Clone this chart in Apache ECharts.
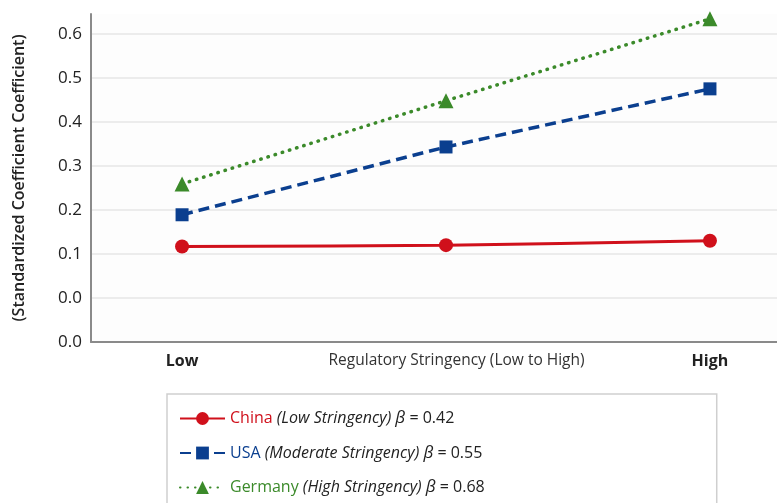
<!DOCTYPE html>
<html><head><meta charset="utf-8">
<script src="https://cdn.jsdelivr.net/npm/echarts@6/dist/echarts.min.js"></script>
<style>html,body{margin:0;padding:0;background:#fff}#c{width:777px;height:503px}</style>
</head><body><div id="c"></div>
<script>
const xPositions = [0, 1, 2];
const xTickValues = [0, 1.04, 2];
const xTickLabels = ['Low', 'Regulatory Stringency (Low to High)', 'High'];
const yTicks = [-0.1, 0, 0.1, 0.2, 0.3, 0.4, 0.5, 0.6];
const chinaValues = [0.117, 0.120, 0.130];
const usaValues = [0.189, 0.343, 0.475];
const germanyValues = [0.259, 0.448, 0.634];
const seriesNames = ['China', 'USA', 'Germany'];
const seriesDesc = ['(Low Stringency)', '(Moderate Stringency)', '(High Stringency)'];
const seriesBeta = ['0.42', '0.55', '0.68'];
const colors = ['#d0101b', '#0b3f8f', '#3b8a2a'];
const FONT = '"Open Sans", "Noto Sans", sans-serif';

const toPairs = vals => vals.map((v, i) => [xPositions[i], v]);
const chart = echarts.init(document.getElementById('c'));
chart.setOption({
  animation: false,
  backgroundColor: '#ffffff',
  textStyle: { fontFamily: FONT },
  grid: { left: 91, right: 0, top: 14, bottom: 161, backgroundColor: '#fdfdfd', show: true, borderWidth: 0 },
  xAxis: {
    type: 'value', min: -0.345, max: 2.254,
    axisLine: { show: true, onZero: false, lineStyle: { color: '#8a8a8a', width: 2 } },
    axisTick: { show: false },
    splitLine: { show: false },
    axisLabel: {
      customValues: xTickValues,
      margin: 11,
      formatter: v => {
        const i = xTickValues.findIndex(t => Math.abs(t - v) < 1e-6);
        if (i < 0) return '';
        return (i === 1 ? '{n|' : '{b|') + xTickLabels[i] + '}';
      },
      rich: {
        b: { fontFamily: FONT, fontSize: 16, fontWeight: 'bold', color: '#222' },
        n: { fontFamily: FONT, fontSize: 15.5, color: '#333' }
      }
    }
  },
  yAxis: {
    type: 'value', min: -0.1, max: 0.645,
    name: '(Standardized Coefficient Coefficient)',
    nameLocation: 'middle', nameGap: 64,
    nameTextStyle: { fontFamily: FONT, fontSize: 16, fontWeight: 600, color: '#222' },
    axisLine: { show: true, onZero: false, lineStyle: { color: '#8a8a8a', width: 2 } },
    axisTick: { show: false },
    splitLine: { show: true, showMinLine: false, showMaxLine: false, lineStyle: { color: '#e6e6e6', width: 1.5 } },
    axisLabel: {
      customValues: yTicks,
      margin: 9, fontSize: 17, color: '#222', fontFamily: FONT,
      formatter: v => (v < 0 ? 0 : v).toFixed(1)
    }
  },
  legend: {
    orient: 'vertical', left: 167, top: 394, height: 170,
    itemWidth: 45, itemHeight: 16, itemGap: 17.5,
    padding: [16, 232, 20, 12],
    backgroundColor: '#fff', borderColor: '#cfcfcf', borderWidth: 1.5,
    data: seriesNames,
    formatter: name => {
      const i = seriesNames.indexOf(name);
      return '{c' + i + '|' + name + '} {d|' + seriesDesc[i] + '} {g|β} {d2|= ' + seriesBeta[i] + '}';
    },
    textStyle: {
      fontFamily: FONT, fontSize: 16, color: '#222',
      rich: {
        c0: { color: colors[0], fontSize: 16, fontFamily: FONT },
        c1: { color: colors[1], fontSize: 16, fontFamily: FONT },
        c2: { color: colors[2], fontSize: 16, fontFamily: FONT },
        d: { fontStyle: 'italic', fontSize: 16, color: '#222', fontFamily: FONT },
        g: { fontStyle: 'italic', fontSize: 17, color: '#222', fontFamily: FONT },
        d2: { fontSize: 16, color: '#222', fontFamily: FONT }
      }
    }
  },
  series: [
    { name: seriesNames[0], type: 'line', data: toPairs(chinaValues), smooth: 0.3,
      symbol: 'circle', symbolSize: 14, color: colors[0],
      lineStyle: { color: colors[0], width: 3, type: 'solid' }, itemStyle: { color: colors[0] } },
    { name: seriesNames[1], type: 'line', data: toPairs(usaValues),
      symbol: 'rect', symbolSize: 13, color: colors[1],
      lineStyle: { color: colors[1], width: 3.5, type: [11, 6] }, itemStyle: { color: colors[1] } },
    { name: seriesNames[2], type: 'line', data: toPairs(germanyValues),
      symbol: 'triangle', symbolSize: 15, color: colors[2],
      lineStyle: { color: colors[2], width: 3.5, type: [0.5, 7], cap: 'round' }, itemStyle: { color: colors[2] } }
  ]
});
</script></body></html>
